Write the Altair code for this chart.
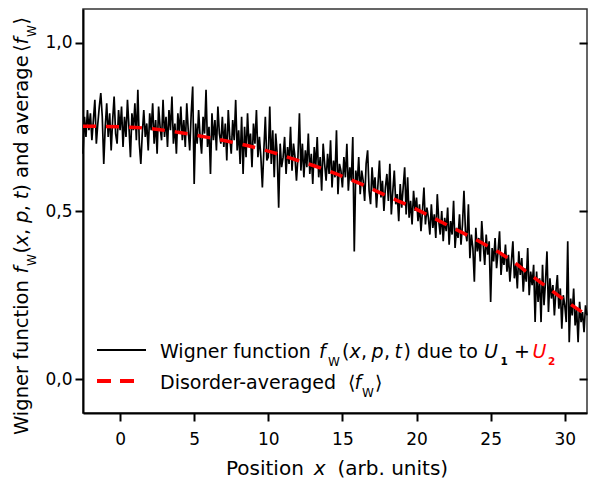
import altair as alt
import numpy as np
import pandas as pd

FONT = "DejaVu Sans"

# ---------------- data ----------------
x_start, x_step = -2.5, 0.1
wigner = [
    0.67, 0.78, 0.72, 0.80, 0.74,
    0.79, 0.71, 0.77, 0.83, 0.70, 0.76, 0.81, 0.85, 0.78, 0.64,
    0.75, 0.82, 0.72, 0.79, 0.68, 0.77, 0.84, 0.73, 0.70, 0.80,
    0.74, 0.81, 0.69, 0.78, 0.72, 0.83, 0.75, 0.66, 0.79, 0.74,
    0.82, 0.71, 0.86, 0.70, 0.64, 0.73, 0.80, 0.72, 0.76, 0.68,
    0.79, 0.74, 0.82, 0.70, 0.77, 0.67, 0.81, 0.75, 0.71, 0.83,
    0.72, 0.78, 0.69, 0.80, 0.74, 0.84, 0.70, 0.76, 0.67, 0.79,
    0.73, 0.81, 0.71, 0.77, 0.69, 0.82, 0.74, 0.68, 0.79, 0.87,
    0.58, 0.76, 0.70, 0.80, 0.72, 0.67, 0.78, 0.73, 0.86, 0.69,
    0.75, 0.61, 0.79, 0.71, 0.77, 0.68, 0.81, 0.73, 0.70, 0.78,
    0.69, 0.76, 0.65, 0.80, 0.72, 0.67, 0.77, 0.71, 0.83, 0.68,
    0.74, 0.64, 0.78, 0.61, 0.75, 0.66, 0.79, 0.69, 0.73, 0.63,
    0.76, 0.70, 0.80, 0.66, 0.72, 0.66, 0.57, 0.68, 0.78, 0.65,
    0.66, 0.81, 0.64, 0.74, 0.60, 0.73, 0.67, 0.51, 0.70, 0.63,
    0.66, 0.72, 0.61, 0.69, 0.64, 0.75, 0.62, 0.70, 0.66, 0.59,
    0.66, 0.79, 0.62, 0.70, 0.60, 0.68, 0.63, 0.73, 0.61, 0.67,
    0.58, 0.69, 0.63, 0.72, 0.60, 0.66, 0.56, 0.70, 0.64, 0.59,
    0.67, 0.61, 0.71, 0.57, 0.65, 0.60, 0.74, 0.55, 0.64, 0.62,
    0.57, 0.66, 0.60, 0.70, 0.56, 0.63, 0.59, 0.72, 0.38, 0.62,
    0.58, 0.66, 0.55, 0.62, 0.59, 0.53, 0.64, 0.68, 0.56, 0.52,
    0.63, 0.56, 0.60, 0.51, 0.58, 0.65, 0.54, 0.59, 0.50, 0.57,
    0.61, 0.53, 0.64, 0.49, 0.56, 0.62, 0.52, 0.55, 0.47, 0.58,
    0.51, 0.57, 0.63, 0.49, 0.60, 0.48, 0.53, 0.46, 0.56, 0.50,
    0.54, 0.47, 0.52, 0.44, 0.50, 0.57, 0.46, 0.51, 0.48, 0.43,
    0.52, 0.45, 0.49, 0.42, 0.55, 0.47, 0.43, 0.50, 0.41, 0.48,
    0.44, 0.51, 0.40, 0.47, 0.43, 0.53, 0.39, 0.45, 0.42, 0.49,
    0.40, 0.46, 0.56, 0.44, 0.41, 0.52, 0.36, 0.43, 0.39, 0.29,
    0.45, 0.38, 0.42, 0.35, 0.47, 0.40, 0.34, 0.43, 0.37, 0.41,
    0.23, 0.39, 0.35, 0.42, 0.33, 0.38, 0.44, 0.31, 0.37, 0.34,
    0.40, 0.32, 0.37, 0.29, 0.35, 0.41, 0.30, 0.34, 0.27, 0.38,
    0.31, 0.36, 0.26, 0.33, 0.29, 0.39, 0.25, 0.32, 0.28, 0.34,
    0.17, 0.32, 0.23, 0.30, 0.17, 0.34, 0.22, 0.29, 0.38, 0.20,
    0.30, 0.24, 0.28, 0.19, 0.26, 0.31, 0.21, 0.27, 0.15, 0.25,
    0.22, 0.17, 0.41, 0.11, 0.24, 0.19, 0.27, 0.16, 0.21, 0.11,
    0.23, 0.17, 0.20, 0.14, 0.22, 0.19,
]
avg_x = [-2.5, 0, 2, 4, 6, 8, 10, 12, 14, 16, 18, 20, 22, 24, 26, 28, 30, 31.5]
avg_y = [0.752, 0.750, 0.745, 0.733, 0.718, 0.700, 0.678, 0.650, 0.620,
         0.585, 0.545, 0.505, 0.460, 0.415, 0.365, 0.300, 0.235, 0.190]
x_ticks = [0, 5, 10, 15, 20, 25, 30]
y_ticks = [0.0, 0.5, 1.0]
x_domain = [-2.5, 31.5]
y_domain = [-0.1, 1.1]

WIDTH, HEIGHT = 504, 404

x_vals = np.round(x_start + x_step * np.arange(len(wigner)), 2)
df_w = pd.DataFrame({"x": x_vals, "y": wigner})
df_a = pd.DataFrame({"x": avg_x, "y": avg_y})

# ---------------- text metrics (DejaVu Sans, units/2048, as rendered) ----------------
ADV = {' ': 651, '(': 799, ')': 799, '+': 1716, ',': 651, '-': 739, '.': 651,
       'A': 1401, 'D': 1577, 'P': 1235, 'U': 1499, 'W': 2025,
       'a': 1255, 'b': 1300, 'c': 1126, 'd': 1300, 'e': 1260, 'f': 721, 'g': 1300,
       'h': 1298, 'i': 569, 'n': 1298, 'o': 1253, 'p': 1300, 'r': 842, 's': 1067,
       't': 803, 'u': 1298, 'v': 1212, 'x': 1212, '⟨': 800, '⟩': 800}
RENDER = 0.963


def tw(s, size, bold=False):
    tot = 0
    for ch in s:
        if ch.isdigit():
            tot += 1425 if bold else 1303
        else:
            tot += ADV.get(ch, 1250)
    return tot / 2048 * size * RENDER


rows = []


def add(t, px, py, style="normal", weight="normal", fs=19, col="black", ang=0):
    rows.append(dict(t=t, px=px, py=py, style=style, weight=weight, fs=fs, col=col, ang=ang))


# legend (positions relative to the legend text start)
L0x, L1y, L2y = 77, 349.3, 380.4
add("Wigner function", L0x + 0, L1y)
add("f", L0x + 159, L1y, style="italic")
add("W", L0x + 168, L1y + 7.5, fs=12)
add("(", L0x + 182, L1y)
add("x", L0x + 189.5, L1y, style="italic")
add(",", L0x + 201, L1y)
add("p", L0x + 211.5, L1y, style="italic")
add(",", L0x + 224, L1y)
add("t", L0x + 234.5, L1y, style="italic")
add(") due to", L0x + 243.5, L1y)
add("U", L0x + 324, L1y, style="italic")
add("1", L0x + 340.5, L1y + 7, weight="bold", fs=10.5)
add("+", L0x + 354, L1y)
add("U", L0x + 372.5, L1y, style="italic", col="#ff0000")
add("2", L0x + 388, L1y + 7, weight="bold", fs=10.5, col="#ff0000")
add("Disorder-averaged", L0x + 0, L2y)
add("⟨", L0x + 188, L2y)
add("f", L0x + 194.5, L2y, style="italic")
add("W", L0x + 202, L2y + 7.5, fs=12)
add("⟩", L0x + 215, L2y)

# x-axis title, centred under the plot
XT = 20
xt_segs = [("Position", "normal", 0), ("x", "italic", 2 * tw(" ", XT)),
           ("(arb. units)", "normal", 2 * tw(" ", XT))]
total = sum(tw(s, XT) + g for s, _, g in xt_segs)
pos = WIDTH / 2 - total / 2
for s, st, g in xt_segs:
    pos += g
    add(s, pos, 466, style=st, fs=XT)
    pos += tw(s, XT)

# y-axis title, rotated, built upward
YT = 19.5
SP = tw(" ", YT)
yt_segs = [
    ("Wigner function", "normal", YT, 0, 0),
    ("f", "italic", YT, 0, 2 * SP),
    ("W", "normal", 12, 7.5, 1),
    ("(", "normal", YT, 0, 1),
    ("x", "italic", YT, 0, 0),
    (",", "normal", YT, 0, 0),
    ("p", "italic", YT, 0, SP),
    (",", "normal", YT, 0, 0),
    ("t", "italic", YT, 0, SP),
    (") and average", "normal", YT, 0, 0),
    ("⟨", "normal", YT, 0, SP + 2.5),
    ("f", "italic", YT, 0, 0),
    ("W", "normal", 12, 7.5, 1),
    ("⟩", "normal", YT, 0, 1),
]
base_x, pos = -55, 426
for s, st, fs, sh, g in yt_segs:
    pos -= g
    add(s, base_x + sh, pos, style=st, fs=fs, ang=270)
    pos -= tw(s, fs)

df_t = pd.DataFrame(rows)

# ---------------- chart ----------------
xs = alt.Scale(domain=x_domain, nice=False, zero=False)
ys = alt.Scale(domain=y_domain, nice=False, zero=False)

x_axis = alt.Axis(values=x_ticks, title=None, grid=False, tickSize=8, tickWidth=2,
                  domainWidth=2, domainColor="black", tickColor="black",
                  labelFont=FONT, labelFontSize=17, labelColor="black", labelPadding=10)

black = alt.Chart(df_w).mark_line(color="black", strokeWidth=1.7).encode(
    x=alt.X("x:Q", scale=xs, axis=x_axis),
    y=alt.Y("y:Q", scale=ys, axis=alt.Axis(
        orient="left", values=y_ticks, title=None, grid=False, tickSize=8, tickWidth=2,
        domainWidth=2, domainColor="black", tickColor="black",
        labelFont=FONT, labelFontSize=17, labelColor="black", labelPadding=3,
        labelExpr="replace(format(datum.value, '.1f'), '.', ',')")),
)

red = alt.Chart(df_a).mark_line(color="#ff0000", strokeWidth=3.5, strokeDash=[13, 10],
                                interpolate="monotone").encode(
    x=alt.X("x:Q", scale=xs, axis=x_axis),
    y=alt.Y("y:Q", scale=ys, axis=alt.Axis(
        orient="right", values=y_ticks, title=None, grid=False, labels=False,
        domain=False, ticks=True, tickSize=8, tickWidth=2, tickColor="black", offset=-8)),
)


def text_layer(style, weight):
    d = df_t[(df_t["style"] == style) & (df_t["weight"] == weight)]
    return alt.Chart(d).mark_text(
        align="left", baseline="alphabetic", font=FONT, fontStyle=style, fontWeight=weight
    ).encode(
        x=alt.X("px:Q", scale=None, axis=None),
        y=alt.Y("py:Q", scale=None, axis=None),
        text="t:N",
        color=alt.Color("col:N", scale=None, legend=None),
        size=alt.Size("fs:Q", scale=None, legend=None),
        angle=alt.Angle("ang:Q", scale=None),
    )


leg_black = alt.Chart(df_w).mark_rule(color="black", strokeWidth=1.4).encode(
    x=alt.value(14.7), x2=alt.value(63), y=alt.value(341))
leg_red = alt.Chart(df_w).mark_rule(color="#ff0000", strokeWidth=3.5, strokeDash=[13, 10]).encode(
    x=alt.value(14.7), x2=alt.value(51.3), y=alt.value(372.3))

chart = alt.layer(
    black, red,
    text_layer("normal", "normal"), text_layer("italic", "normal"), text_layer("normal", "bold"),
    leg_black, leg_red,
).resolve_axis(y="independent").properties(
    width=WIDTH, height=HEIGHT,
    padding={"left": 75, "top": 1, "right": 1, "bottom": 67},
    autosize=alt.AutoSizeParams(type="none"),
).configure_view(stroke="#333333", strokeWidth=1.5).configure_axis(grid=False)

chart.save("out.html", embed_options={"renderer": "svg", "actions": False})
